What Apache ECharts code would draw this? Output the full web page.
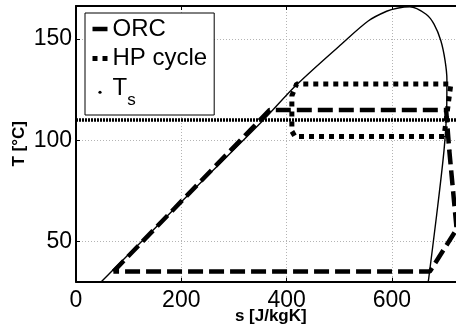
<!DOCTYPE html>
<html>
<head>
<meta charset="utf-8">
<script src="https://cdn.jsdelivr.net/npm/echarts@6/dist/echarts.min.js"></script>
<style>
html,body{margin:0;padding:0;background:#fff;overflow:hidden;}
#c{width:456px;height:333px;}
</style>
</head>
<body>
<div id="c"></div>
<script>
// ---- data ----
const xTicks = [0, 200, 400, 600];
const yTicks = [50, 100, 150];

// saturation dome (s in J/kgK, T in °C)
const domeS = [48, 150, 260, 356, 419, 504, 555, 590, 610, 634, 665, 680, 693, 701, 704.5, 704, 699, 685, 670, 669];
const domeT = [30, 56.5, 85, 110, 127.4, 147.5, 159, 163.8, 165.3, 166, 162.3, 157.4, 149.2, 139.4, 130, 115, 95, 63, 31.8, 30];

// ORC cycle
const orcS = [71, 368, 703, 709, 723, 672, 71];
const orcT = [35, 115, 115, 95, 56, 35, 35];

// heat pump cycle
const hpS = [699, 416, 410, 410, 419, 712, 699];
const hpT = [101.8, 101.8, 104.5, 122, 127.8, 127.8, 101.8];

// source temperature
const tsS = [0, 740];
const tsT = [110, 110];

const pairs = (a, b) => a.map((v, i) => [v, b[i]]);
const FONT = 'Liberation Sans';

const chart = echarts.init(document.getElementById('c'), null, {renderer: 'canvas'});
const gridLine = {show: true, lineStyle: {color: '#b4b4b4', width: 1, type: [1, 2]}};
const orcLine = {color: '#000', width: 4.5, type: [15, 6]};
const hpLine = {color: '#000', width: 5, type: [5, 5]};

chart.setOption({
  animation: false,
  backgroundColor: '#fff',
  grid: {left: 76, top: 6, width: 389.6, height: 275.7, containLabel: false, outerBoundsMode: 'none'},
  xAxis: [{
    type: 'value', min: 0, max: 740, interval: 200, position: 'bottom',
    name: 's [J/kgK]', nameLocation: 'middle', nameGap: 26, nameMoveOverlap: false,
    nameTextStyle: {fontFamily: FONT, fontSize: 17, fontWeight: 'bold', color: '#000'},
    axisLine: {show: true, onZero: false, lineStyle: {color: '#000', width: 2}},
    axisTick: {show: true, inside: true, length: 4, lineStyle: {color: '#000', width: 1}},
    axisLabel: {fontFamily: FONT, fontSize: 23, color: '#000', margin: 7,
      formatter: v => xTicks.indexOf(v) >= 0 ? String(v) : ''},
    splitLine: gridLine
  }, {
    type: 'value', min: 0, max: 740, interval: 200, position: 'top',
    axisLine: {show: true, onZero: false, lineStyle: {color: '#000', width: 2}},
    axisTick: {show: true, inside: true, length: 4, lineStyle: {color: '#000', width: 1}},
    axisLabel: {show: false},
    splitLine: {show: false}
  }],
  yAxis: {
    type: 'value', min: 30, max: 166.4,
    name: 'T [°C]', nameLocation: 'middle', nameGap: 48, nameRotate: 90, nameMoveOverlap: false,
    nameTextStyle: {fontFamily: FONT, fontSize: 17, fontWeight: 'bold', color: '#000'},
    axisLine: {show: true, onZero: false, lineStyle: {color: '#000', width: 2}},
    axisTick: {show: true, inside: true, length: 4, customValues: yTicks, lineStyle: {color: '#000', width: 1}},
    axisLabel: {fontFamily: FONT, fontSize: 23, color: '#000', margin: 4, customValues: yTicks},
    splitLine: gridLine
  },
  legend: {
    orient: 'vertical', left: 85, top: 13,
    padding: [4, 7, 6.5, 5],
    itemWidth: 15, itemHeight: 4, itemGap: 5.5,
    borderColor: '#000', borderWidth: 1, backgroundColor: '#fff',
    selectedMode: false,
    textStyle: {fontFamily: FONT, fontSize: 24, color: '#000',
      rich: {
        t: {fontFamily: FONT, fontSize: 24, color: '#000', verticalAlign: 'top', padding: [0, 0, 8.5, 0]},
        s: {fontFamily: FONT, fontSize: 17, color: '#000', verticalAlign: 'bottom'}
      }},
    formatter: name => name === 'Ts' ? '{t|T}{s|s}' : name,
    data: [
      {name: 'ORC', itemStyle: {opacity: 0}, lineStyle: orcLine},
      {name: 'HP cycle', itemStyle: {opacity: 0}, lineStyle: hpLine},
      {name: 'Ts', lineStyle: {opacity: 0, width: 0}, itemStyle: {color: '#000', opacity: 1}}
    ]
  },
  series: [
    {
      name: 'dome', type: 'line', data: pairs(domeS, domeT), smooth: 0.3,
      symbol: 'none', clip: true,
      lineStyle: {color: '#000', width: 1.4}, z: 2
    },
    {
      name: 'ORC', type: 'line', data: pairs(orcS, orcT),
      symbol: 'none', clip: true, color: '#000',
      lineStyle: orcLine, z: 3
    },
    {
      name: 'HP cycle', type: 'line', data: pairs(hpS, hpT),
      symbol: 'none', clip: true, color: '#000',
      lineStyle: hpLine, z: 3
    },
    {
      name: 'Ts', type: 'line', data: pairs(tsS, tsT),
      symbol: 'circle', symbolSize: 3, showSymbol: false, clip: true, color: '#000',
      itemStyle: {color: '#000'},
      lineStyle: {color: '#000', width: 3.5, type: [2, 1]}, z: 4
    }
  ]
});
</script>
</body>
</html>
